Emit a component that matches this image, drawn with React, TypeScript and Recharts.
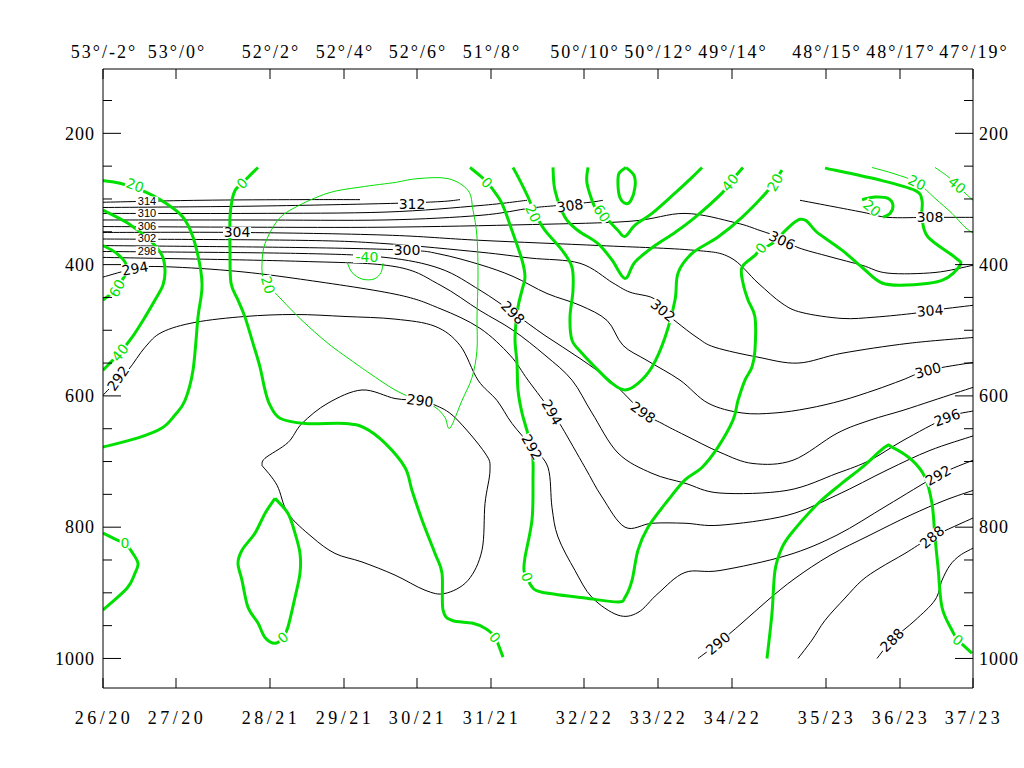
import React from 'react'
import { ComposedChart, Line, Scatter, XAxis, YAxis } from 'recharts'

type Pt = { x: number; p: number }
type Lbl = { x: number; p: number; text: string; rot: number }

// stations along the section (x = distance units) and their labels
const xTicks = [0, 73, 167, 241, 314, 388, 481, 555, 629, 723, 797, 870]
const timeLabels = ['26/20', '27/20', '28/21', '29/21', '30/21', '31/21', '32/22', '33/22', '34/22', '35/23', '36/23', '37/23']
const posLabels = ['53°/-2°', '53°/0°', '52°/2°', '52°/4°', '52°/6°', '51°/8°', '50°/10°', '50°/12°', '49°/14°', '48°/15°', '48°/17°', '47°/19°']
const pTicks = [150, 200, 250, 300, 350, 400, 450, 500, 550, 600, 650, 700, 750, 800, 850, 900, 950, 1000]

// potential temperature isolines [x, hPa]
const th314 = [[0, 305], [97, 302], [197, 301], [257, 301]]
const th312 = [[0, 313], [147, 311], [282, 307], [337, 304], [357, 301]]
const th310 = [[0, 322], [147, 322], [282, 320], [377, 310], [424, 302]]
const th308a = [[0, 332], [147, 332], [282, 332], [377, 325], [427, 314], [454, 310], [487, 305], [500, 302]]
const th308b = [[697, 302], [759, 320], [785, 328], [827, 328], [870, 328]]
const th306 = [[0, 342], [147, 343], [282, 343], [427, 339], [527, 334], [582, 322], [632, 336], [657, 348], [679, 360], [695, 374], [727, 388], [759, 401], [785, 413], [832, 412], [870, 401]]
const th304 = [[0, 351], [134, 351], [282, 355], [377, 363], [497, 371], [590, 378], [627, 389], [655, 428], [679, 459], [699, 473], [739, 482], [772, 480], [812, 474], [827, 470], [870, 462]]
const th302 = [[0, 361], [197, 363], [282, 368], [377, 381], [427, 390], [477, 398], [510, 428], [527, 442], [550, 451], [560, 470], [574, 488], [594, 511], [612, 526], [655, 541], [695, 550], [739, 535], [805, 520], [870, 511]]
const th300 = [[0, 371], [197, 374], [304, 378], [337, 384], [377, 400], [410, 418], [444, 444], [477, 462], [504, 485], [520, 523], [544, 546], [577, 576], [605, 611], [639, 626], [672, 626], [705, 619], [739, 607], [772, 591], [799, 576], [825, 561], [870, 549]]
const th298 = [[0, 380], [197, 383], [282, 389], [337, 406], [377, 439], [410, 473], [442, 508], [477, 543], [509, 579], [540, 625], [559, 642], [582, 660], [617, 686], [650, 703], [690, 698], [734, 657], [767, 637], [800, 622], [830, 607], [870, 587]]
const th296 = [[0, 389], [197, 395], [292, 403], [337, 431], [377, 470], [410, 500], [442, 538], [469, 576], [489, 626], [515, 687], [549, 718], [582, 733], [617, 748], [684, 744], [734, 718], [767, 698], [800, 668], [844, 633], [870, 623]]
const th294 = [[0, 419], [32, 406], [57, 403], [125, 409], [192, 421], [292, 445], [337, 467], [377, 497], [407, 538], [425, 576], [449, 625], [459, 648], [482, 709], [499, 754], [522, 800], [549, 794], [582, 794], [617, 797], [684, 782], [734, 751], [784, 713], [827, 683], [870, 661]]
const th292 = [[0, 599], [7, 588], [25, 561], [42, 526], [59, 503], [92, 488], [142, 479], [192, 476], [242, 479], [292, 483], [332, 494], [357, 523], [375, 576], [394, 607], [409, 642], [429, 678], [445, 709], [449, 770], [455, 815], [472, 866], [489, 907], [515, 934], [535, 930], [555, 901], [582, 869], [617, 866], [684, 843], [734, 812], [784, 767], [835, 721], [870, 698]]
const th290a = [[159, 706], [174, 736], [185, 779], [209, 815], [232, 840], [259, 853], [292, 873], [322, 896], [342, 901], [365, 881], [379, 835], [382, 764], [387, 713], [382, 687], [352, 633], [332, 614], [315, 607], [292, 604], [259, 591], [225, 611], [199, 642], [185, 671], [162, 695], [159, 706]]
const th290b = [[595, 1000], [615, 977], [639, 946], [665, 911], [692, 878], [727, 843], [767, 812], [807, 782], [842, 759], [870, 744]]
const th288a = [[695, 1000], [709, 972], [722, 942], [742, 908], [759, 881], [777, 862], [802, 840], [829, 815], [870, 786]]
const th288b = [[774, 1000], [789, 972], [812, 942], [832, 911], [839, 881], [847, 858], [857, 843], [870, 832]]

// wind isotachs, positive / zero (thick)
const g20a = [[0, 272], [17, 276], [45, 291], [69, 313], [82, 332], [92, 368], [99, 428], [95, 480], [90, 561], [82, 607], [72, 629], [59, 649], [35, 664], [0, 678]]
const g40a = [[0, 317], [25, 337], [47, 363], [59, 386], [62, 409], [60, 431], [52, 454], [42, 480], [29, 511], [17, 534], [0, 561]]
const g60a = [[0, 371], [12, 381], [22, 396], [24, 409], [19, 424], [12, 439], [0, 454]]
const g0a = [[155, 252], [145, 267], [137, 279], [132, 287], [129, 302], [127, 328], [127, 378], [128, 428], [135, 454], [142, 480], [150, 520], [157, 556], [162, 591], [167, 614], [177, 634], [202, 642], [242, 642], [262, 649], [282, 672], [302, 709], [309, 744], [319, 789], [332, 840], [339, 870], [340, 926], [349, 942], [369, 946], [382, 954], [392, 968], [400, 998]]
const g0b = [[0, 809], [15, 820], [22, 824], [29, 838], [35, 855], [32, 870], [24, 893], [0, 926]]
const g0c = [[172, 756], [185, 779], [192, 809], [197, 840], [197, 870], [192, 907], [185, 952], [180, 968], [172, 977], [162, 968], [155, 946], [145, 922], [139, 881], [135, 855], [139, 835], [152, 809], [162, 779], [172, 756]]
const g0d = [[367, 252], [379, 267], [384, 275], [389, 284], [399, 307], [409, 348], [419, 393], [422, 419], [419, 439], [415, 465], [412, 511], [414, 550], [415, 591], [419, 626], [429, 683], [430, 728], [429, 789], [422, 846], [421, 866], [424, 876], [429, 891], [439, 899], [482, 908], [515, 914], [522, 907], [529, 881], [535, 835], [545, 800], [565, 759], [582, 728], [599, 709], [615, 678], [630, 637], [635, 607], [642, 576], [649, 556], [652, 530], [652, 480], [645, 454], [640, 428], [639, 404], [652, 386], [658, 375], [669, 368], [697, 331], [715, 352], [739, 378], [759, 404], [779, 428], [805, 431], [839, 424], [857, 401], [852, 389], [825, 358], [819, 328], [819, 302], [812, 287], [779, 272], [722, 253]]
const g20b = [[410, 252], [417, 272], [425, 297], [432, 322], [442, 348], [459, 378], [469, 404], [470, 439], [467, 480], [469, 515], [479, 535], [492, 556], [509, 581], [522, 591], [535, 581], [549, 556], [562, 511], [572, 454], [575, 413], [589, 383], [615, 358], [639, 328], [665, 287], [679, 256]]
const g40b = [[450, 252], [452, 287], [462, 328], [475, 348], [495, 368], [509, 393], [522, 421], [532, 396], [552, 371], [572, 351], [592, 328], [619, 291], [627, 275], [640, 252]]
const g60b = [[485, 252], [484, 276], [492, 313], [499, 322], [515, 348], [522, 357], [532, 340], [549, 322], [572, 291], [589, 267], [599, 252]]
const g60c = [[523, 252], [531, 264], [532, 282], [528, 302], [523, 307], [517, 298], [515, 279], [516, 261], [523, 252]]
const g20c = [[759, 301], [772, 297], [785, 299], [790, 310], [787, 322], [780, 328]]
const g0e = [[664, 1000], [669, 931], [672, 866], [679, 831], [689, 808], [715, 764], [739, 733], [759, 709], [782, 678], [789, 678], [809, 698], [822, 724], [829, 764], [832, 815], [835, 861], [839, 922], [849, 957], [855, 972], [869, 992]]

// negative isotachs (thin)
const t20 = [[292, 275], [315, 269], [345, 269], [365, 287], [370, 317], [374, 358], [375, 419], [374, 480], [374, 530], [369, 572], [359, 607], [347, 649], [342, 633], [332, 617], [315, 607], [292, 591], [267, 566], [252, 550], [225, 520], [199, 485], [179, 454], [165, 431], [160, 419], [159, 398], [162, 368], [175, 332], [192, 313], [225, 291], [257, 282], [292, 275]]
const t40 = [[244, 396], [249, 412], [259, 422], [271, 422], [278, 412], [280, 398]]
const tm20 = [[769, 252], [792, 262], [814, 275], [832, 299], [849, 322], [862, 343], [870, 352]]
const tm40 = [[832, 252], [845, 266], [854, 279], [862, 291], [870, 302]]

// contour labels [text, x, hPa, rotation]
const stackLabels = [['314', 44, 303, 0], ['310', 44, 322, 0], ['306', 44, 341, 0], ['302', 44, 360, 0], ['298', 44, 379, 0]]
const thetaLabels = [
  ['294', 32, 406, -10], ['304', 134, 351, 0], ['312', 309, 307, 0], ['300', 304, 378, 0], ['308', 467, 310, -8],
  ['290', 317, 607, 8], ['292', 15, 573, -55], ['292', 429, 678, 60], ['294', 449, 625, 60], ['298', 410, 473, 45],
  ['298', 540, 625, 35], ['302', 560, 470, 40], ['306', 679, 363, 25], ['308', 827, 328, 0], ['304', 827, 470, -5],
  ['300', 825, 561, -15], ['296', 844, 633, -20], ['292', 835, 721, -30], ['288', 829, 815, -40], ['290', 615, 977, -40],
  ['288', 789, 972, -45],
]
const windLabels = [
  ['20', 32, 279, 20], ['60', 14, 436, -60], ['40', 17, 534, -50], ['0', 139, 276, -45], ['0', 22, 824, 0],
  ['0', 180, 968, -40], ['0', 392, 968, 50], ['0', 384, 275, 45], ['20', 430, 322, 65], ['0', 424, 876, 70],
  ['0', 658, 375, -50], ['60', 499, 322, 55], ['40', 627, 275, -50], ['20', 672, 275, -60], ['20', 769, 314, 40],
  ['0', 855, 972, 40], ['20', 165, 431, 75], ['-40', 264, 389, 0], ['20', 814, 275, 25], ['40', 854, 279, 40],
]

const thetaLines = [th314, th312, th310, th308a, th308b, th306, th304, th302, th300, th298, th296, th294, th292, th290a, th290b, th288a, th288b]
const thickWind = [g20a, g40a, g60a, g0a, g0b, g0c, g0d, g20b, g40b, g60b, g60c, g20c, g0e]
const thinWind = [t20, t40, tm20, tm40]

const GREEN = '#00e000'
const toPts = (a: number[][]): Pt[] => a.map(([x, p]) => ({ x, p }))
const toLbls = (a: (string | number)[][]): Lbl[] =>
  a.map(([text, x, p, rot]) => ({ text: String(text), x: Number(x), p: Number(p), rot: Number(rot) }))

// Catmull-Rom style curve so the isolines bend smoothly through the traced points
function smoothCurve(context: any) {
  let pts: number[][] = []
  return {
    areaStart() {},
    areaEnd() {},
    lineStart() { pts = [] },
    point(x: number, y: number) { pts.push([x, y]) },
    lineEnd() {
      const n = pts.length
      if (!n) return
      context.moveTo(pts[0][0], pts[0][1])
      if (n === 2) { context.lineTo(pts[1][0], pts[1][1]); return }
      for (let i = 0; i < n - 1; i++) {
        const p0 = pts[Math.max(i - 1, 0)], p1 = pts[i], p2 = pts[i + 1], p3 = pts[Math.min(i + 2, n - 1)]
        context.bezierCurveTo(
          p1[0] + (p2[0] - p0[0]) / 6, p1[1] + (p2[1] - p0[1]) / 6,
          p2[0] - (p3[0] - p1[0]) / 6, p2[1] - (p3[1] - p1[1]) / 6,
          p2[0], p2[1])
      }
    },
  }
}

const YTick = (props: any) => {
  const { x, y, payload, side } = props
  const v = payload.value
  const major = v % 200 === 0
  const d = side === 'left' ? 1 : -1
  return (
    <g>
      <line x1={x} y1={y} x2={x + d * (major ? 18 : 9)} y2={y} stroke="#000" />
      {major && (
        <text x={side === 'left' ? x - 8 : x + 6} y={y} dy="0.35em" textAnchor={side === 'left' ? 'end' : 'start'}
          fontFamily="Liberation Serif" fontSize={18} letterSpacing={1} fill="#000">{v}</text>
      )}
    </g>
  )
}

const XTick = (props: any) => {
  const { x, y, payload, side } = props
  const i = xTicks.indexOf(payload.value)
  const bottom = side === 'bottom'
  return (
    <g>
      <line x1={x} y1={y} x2={x} y2={y + (bottom ? -10 : 10)} stroke="#000" />
      <text x={x + 1} y={bottom ? y + 30 : y - 17} dy="0.35em" textAnchor="middle"
        fontFamily="Liberation Serif" fontSize={18} letterSpacing={bottom ? 3.5 : 2} fill="#000">
        {bottom ? timeLabels[i] : posLabels[i]}
      </text>
    </g>
  )
}

const ContourLabel = (props: any) => {
  const { cx, cy, payload, color, fs = 14, font = 'DejaVu Sans' } = props
  if (cx == null || cy == null) return null
  const w = payload.text.length * fs * 0.62 + 2
  return (
    <g transform={`translate(${cx},${cy}) rotate(${payload.rot})`}>
      <rect x={-w / 2} y={-fs * 0.4} width={w} height={fs * 0.8} fill="#fff" />
      <text textAnchor="middle" dy="0.36em" fontFamily={font} fontSize={fs} fill={color}>{payload.text}</text>
    </g>
  )
}

export default function App() {
  return (
    <div style={{ position: 'absolute', left: 0, top: 0, width: 1024, height: 768, background: '#fff' }}>
      <ComposedChart width={1024} height={768} margin={{ top: 29, right: 0, bottom: 40, left: 43 }}>
        <XAxis xAxisId={0} dataKey="x" type="number" domain={[0, 870]} ticks={xTicks} interval={0}
          allowDataOverflow height={40} axisLine={{ stroke: '#000' }} tickLine={false} tickSize={0} tickMargin={0}
          tick={(p: any) => <XTick {...p} side="bottom" />} />
        <XAxis xAxisId="top" orientation="top" dataKey="x" type="number" domain={[0, 870]} ticks={xTicks} interval={0}
          allowDataOverflow height={40} axisLine={{ stroke: '#000' }} tickLine={false} tickSize={0} tickMargin={0}
          tick={(p: any) => <XTick {...p} side="top" />} />
        <YAxis yAxisId={0} dataKey="p" type="number" domain={[102, 1045]} reversed ticks={pTicks} interval={0}
          allowDataOverflow width={60} axisLine={{ stroke: '#000' }} tickLine={false} tickSize={0} tickMargin={0}
          tick={(p: any) => <YTick {...p} side="left" />} />
        <YAxis yAxisId="right" orientation="right" dataKey="p" type="number" domain={[102, 1045]} reversed ticks={pTicks}
          interval={0} allowDataOverflow width={51} axisLine={{ stroke: '#000' }} tickLine={false} tickSize={0} tickMargin={0}
          tick={(p: any) => <YTick {...p} side="right" />} />

        {thetaLines.map((d, i) => (
          <Line key={'th' + i} data={toPts(d)} dataKey="p" type={smoothCurve as any} stroke="#000" strokeWidth={1}
            dot={false} activeDot={false} isAnimationActive={false} />
        ))}
        <Scatter data={toLbls(thetaLabels)} dataKey="p" isAnimationActive={false}
          shape={(p: any) => <ContourLabel {...p} color="#000" />} />
        <Scatter data={toLbls(stackLabels)} dataKey="p" isAnimationActive={false}
          shape={(p: any) => <ContourLabel {...p} color="#000" fs={11} font="Liberation Sans" />} />

        {thinWind.map((d, i) => (
          <Line key={'tw' + i} data={toPts(d)} dataKey="p" type={smoothCurve as any} stroke={GREEN} strokeWidth={1}
            dot={false} activeDot={false} isAnimationActive={false} />
        ))}
        {thickWind.map((d, i) => (
          <Line key={'gw' + i} data={toPts(d)} dataKey="p" type={smoothCurve as any} stroke={GREEN} strokeWidth={3}
            dot={false} activeDot={false} isAnimationActive={false} />
        ))}
        <Scatter data={toLbls(windLabels)} dataKey="p" isAnimationActive={false}
          shape={(p: any) => <ContourLabel {...p} color={GREEN} />} />
      </ComposedChart>
    </div>
  )
}
